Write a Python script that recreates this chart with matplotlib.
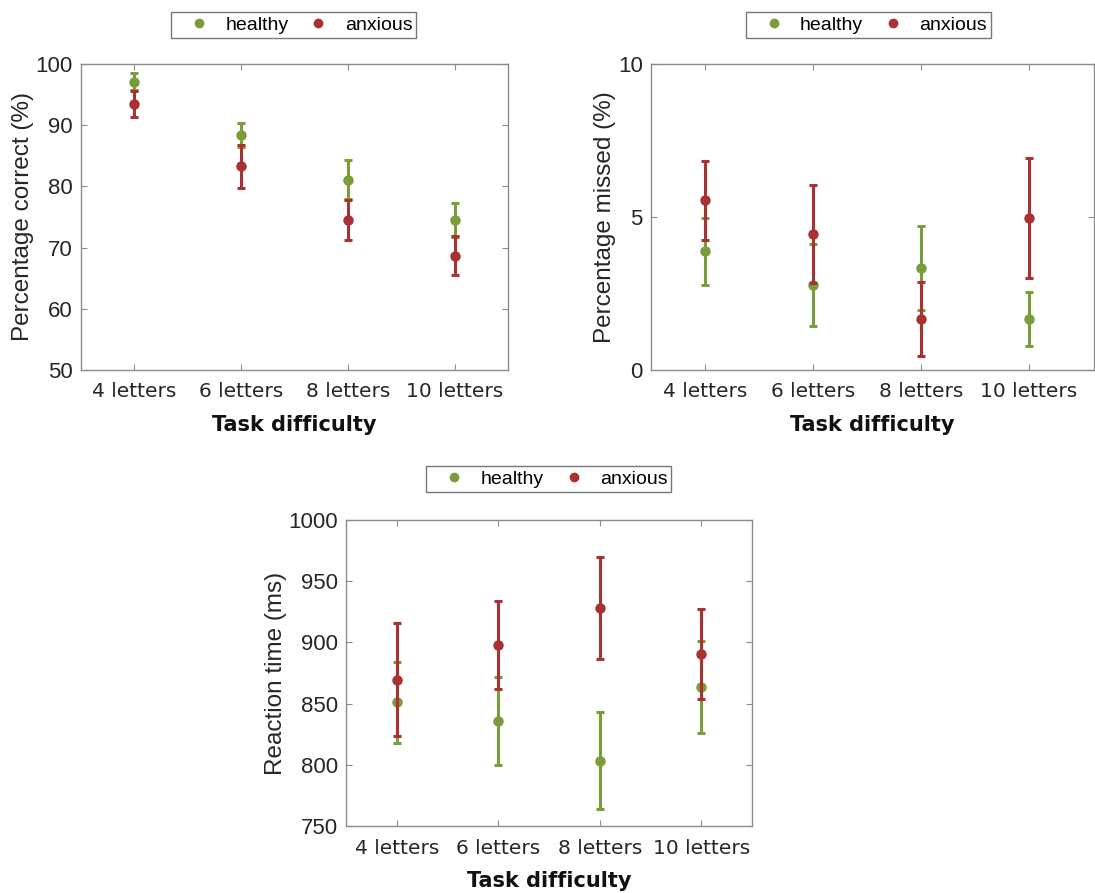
import numpy as np
import matplotlib.pyplot as plt
from matplotlib.lines import Line2D

# Data
categories = ['4 letters', '6 letters', '8 letters', '10 letters']
groups = ['healthy', 'anxious']

correct_healthy = [97.1, 88.4, 81.1, 74.5]
correct_healthy_err = [1.4, 1.9, 3.2, 2.8]
correct_anxious = [93.5, 83.3, 74.5, 68.7]
correct_anxious_err = [2.15, 3.5, 3.2, 3.2]

missed_healthy = [3.88, 2.77, 3.33, 1.66]
missed_healthy_err = [1.1, 1.33, 1.37, 0.88]
missed_anxious = [5.54, 4.44, 1.66, 4.98]
missed_anxious_err = [1.3, 1.6, 1.2, 1.96]

rt_healthy = [851, 836, 803.5, 863.5]
rt_healthy_err = [33, 36, 40, 37.6]
rt_anxious = [869.5, 898, 928, 890.5]
rt_anxious_err = [46, 36, 41.7, 37]

green = '#7a9c3a'
red = '#a83232'
spine_col = '#8c8c8c'
text_col = '#262626'

plt.rcParams['font.family'] = ['Liberation Sans', 'DejaVu Sans']

fig = plt.figure(figsize=(10.95, 8.93), dpi=100)


def panel(rect, hv, he, av, ae, ylim, yticks, ylabel, xlim, leg_box):
    ax = fig.add_axes(rect)
    x = np.arange(1, len(categories) + 1)
    ax.errorbar(x, hv, yerr=he, fmt='o', color=green, ms=6.5, elinewidth=2.2,
                capsize=3, capthick=2.2, zorder=3)
    ax.errorbar(x, av, yerr=ae, fmt='o', color=red, ms=6.5, elinewidth=2.2,
                capsize=3, capthick=2.2, zorder=4)
    ax.set_xlim(*xlim)
    ax.set_ylim(*ylim)
    ax.set_xticks(x)
    ax.set_xticklabels(categories, family='DejaVu Sans', fontsize=14.5,
                       color=text_col)
    ax.set_yticks(yticks)
    ax.set_yticklabels([str(t) for t in yticks], fontsize=16, color=text_col)
    ax.tick_params(direction='in', top=True, right=True, length=4,
                   color=spine_col)
    ax.tick_params(axis='x', pad=9)
    ax.tick_params(axis='y', pad=6)
    for s in ax.spines.values():
        s.set_color(spine_col)
        s.set_linewidth(1.0)
    ax.set_ylabel(ylabel, fontsize=17.5, color=text_col, labelpad=1)
    ax.set_xlabel('Task difficulty', fontsize=15, fontweight='bold',
                  family='DejaVu Sans', labelpad=10, color='#111111')
    handles = [Line2D([], [], marker='o', ls='none', color=green, ms=6),
               Line2D([], [], marker='o', ls='none', color=red, ms=6)]
    leg = fig.legend(handles, groups, loc='center', ncol=2,
                     bbox_to_anchor=leg_box, bbox_transform=fig.transFigure,
                     fontsize=14, frameon=True, fancybox=False,
                     handletextpad=0.1, columnspacing=0.3, borderpad=0.2,
                     handlelength=2.5)
    leg.get_frame().set_edgecolor('#555555')
    leg.get_frame().set_linewidth(1.0)
    return ax


panel([0.074, 0.5857, 0.390, 0.3427], correct_healthy, correct_healthy_err,
      correct_anxious, correct_anxious_err, (50, 100), [50, 60, 70, 80, 90, 100],
      'Percentage correct (%)', (0.5, 4.5), (0.268, 0.972))

panel([0.5945, 0.5857, 0.4045, 0.3427], missed_healthy, missed_healthy_err,
      missed_anxious, missed_anxious_err, (0, 10), [0, 5, 10],
      'Percentage missed (%)', (0.5, 4.6), (0.793, 0.972))

panel([0.316, 0.075, 0.3708, 0.3427], rt_healthy, rt_healthy_err,
      rt_anxious, rt_anxious_err, (750, 1000), [750, 800, 850, 900, 950, 1000],
      'Reaction time (ms)', (0.5, 4.5), (0.501, 0.4637))

fig.savefig('out.png', dpi=100)
